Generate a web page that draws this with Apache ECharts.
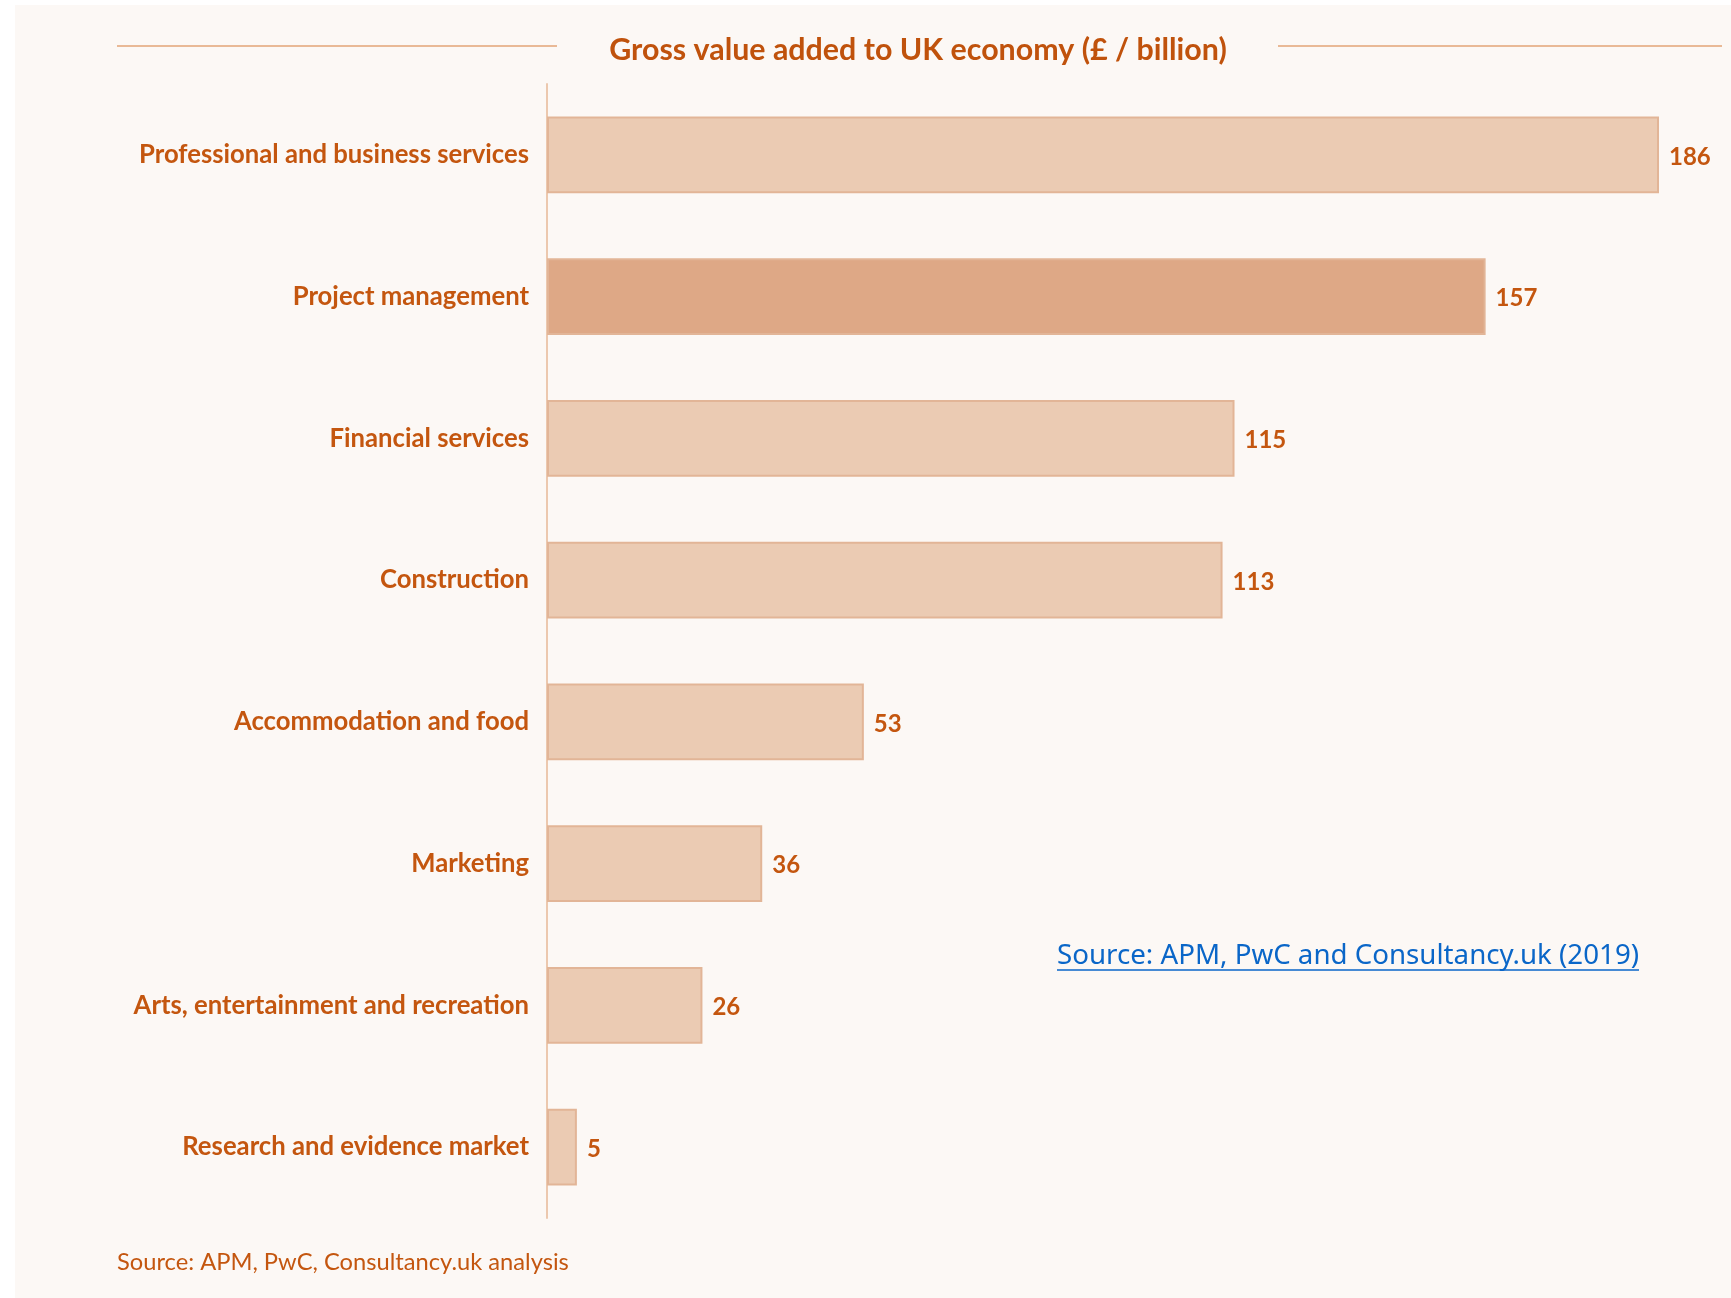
<!DOCTYPE html>
<html>
<head>
<meta charset="utf-8">
<script src="https://cdn.jsdelivr.net/npm/echarts@6/dist/echarts.min.js"></script>
<style>
html,body{margin:0;padding:0;background:#ffffff;}
#chart{width:1731px;height:1298px;}
</style>
</head>
<body>
<div id="chart"></div>
<script>
const categories = [
  'Professional and business services',
  'Project management',
  'Financial services',
  'Construction',
  'Accommodation and food',
  'Marketing',
  'Arts, entertainment and recreation',
  'Research and evidence market'
];
const values = [186, 157, 115, 113, 53, 36, 26, 5];
const highlighted = 'Project management';
const titleText = 'Gross value added to UK economy (£ / billion)';
const sourceLink = 'Source: APM, PwC and Consultancy.uk (2019)';
const sourceNote = 'Source: APM, PwC, Consultancy.uk analysis';

const chart = echarts.init(document.getElementById('chart'), null, {renderer: 'canvas'});
const textColor = '#c4560f';

const option = {
  backgroundColor: '#ffffff',
  animation: false,
  grid: {left: 547, right: 72, top: 84, bottom: 80, containLabel: false},
  xAxis: {
    type: 'value', min: 0, max: 186, show: false,
    splitLine: {show: false}
  },
  yAxis: {
    type: 'category', data: categories, inverse: true,
    axisLine: {show: true, lineStyle: {color: '#ecc8ae', width: 2}},
    axisTick: {show: false},
    axisLabel: {color: textColor, fontSize: 25.7, fontFamily: 'Lato', fontWeight: 'bold', margin: 18}
  },
  series: [{
    type: 'bar',
    data: values,
    barCategoryGap: '46%',
    itemStyle: {
      color: function (p) { return categories[p.dataIndex] === highlighted ? '#dea886' : '#ebcbb3'; },
      borderColor: '#e2b597',
      borderWidth: 2
    },
    label: {
      show: true, position: 'right', distance: 10, offset: [0, 2],
      color: textColor, fontSize: 24, fontFamily: 'Lato', fontWeight: 'bold'
    }
  }],
  graphic: [
    {type: 'rect', z: -10, silent: true, shape: {x: 15, y: 5, width: 1716, height: 1293}, style: {fill: '#fcf8f5'}},
    {type: 'line', silent: true, shape: {x1: 117, y1: 46, x2: 557, y2: 46}, style: {stroke: '#e9b996', lineWidth: 2}},
    {type: 'line', silent: true, shape: {x1: 1278, y1: 46, x2: 1722, y2: 46}, style: {stroke: '#e9b996', lineWidth: 2}},
    {type: 'text', silent: true, x: 918, y: 50, style: {text: titleText, fill: '#c0520c', font: 'bold 30.4px Lato', align: 'center', verticalAlign: 'middle'}},
    {type: 'text', silent: true, x: 1057, y: 956, style: {text: sourceLink, fill: '#0a66c8', font: '27.7px "Noto Sans"', align: 'left', verticalAlign: 'middle'}},
    {type: 'line', silent: true, shape: {x1: 1057, y1: 970, x2: 1639, y2: 970}, style: {stroke: '#0a66c8', lineWidth: 1.5}},
    {type: 'text', silent: true, x: 117, y: 1262, style: {text: sourceNote, fill: textColor, font: '23.7px Lato', align: 'left', verticalAlign: 'middle'}}
  ]
};
chart.setOption(option);
</script>
</body>
</html>
